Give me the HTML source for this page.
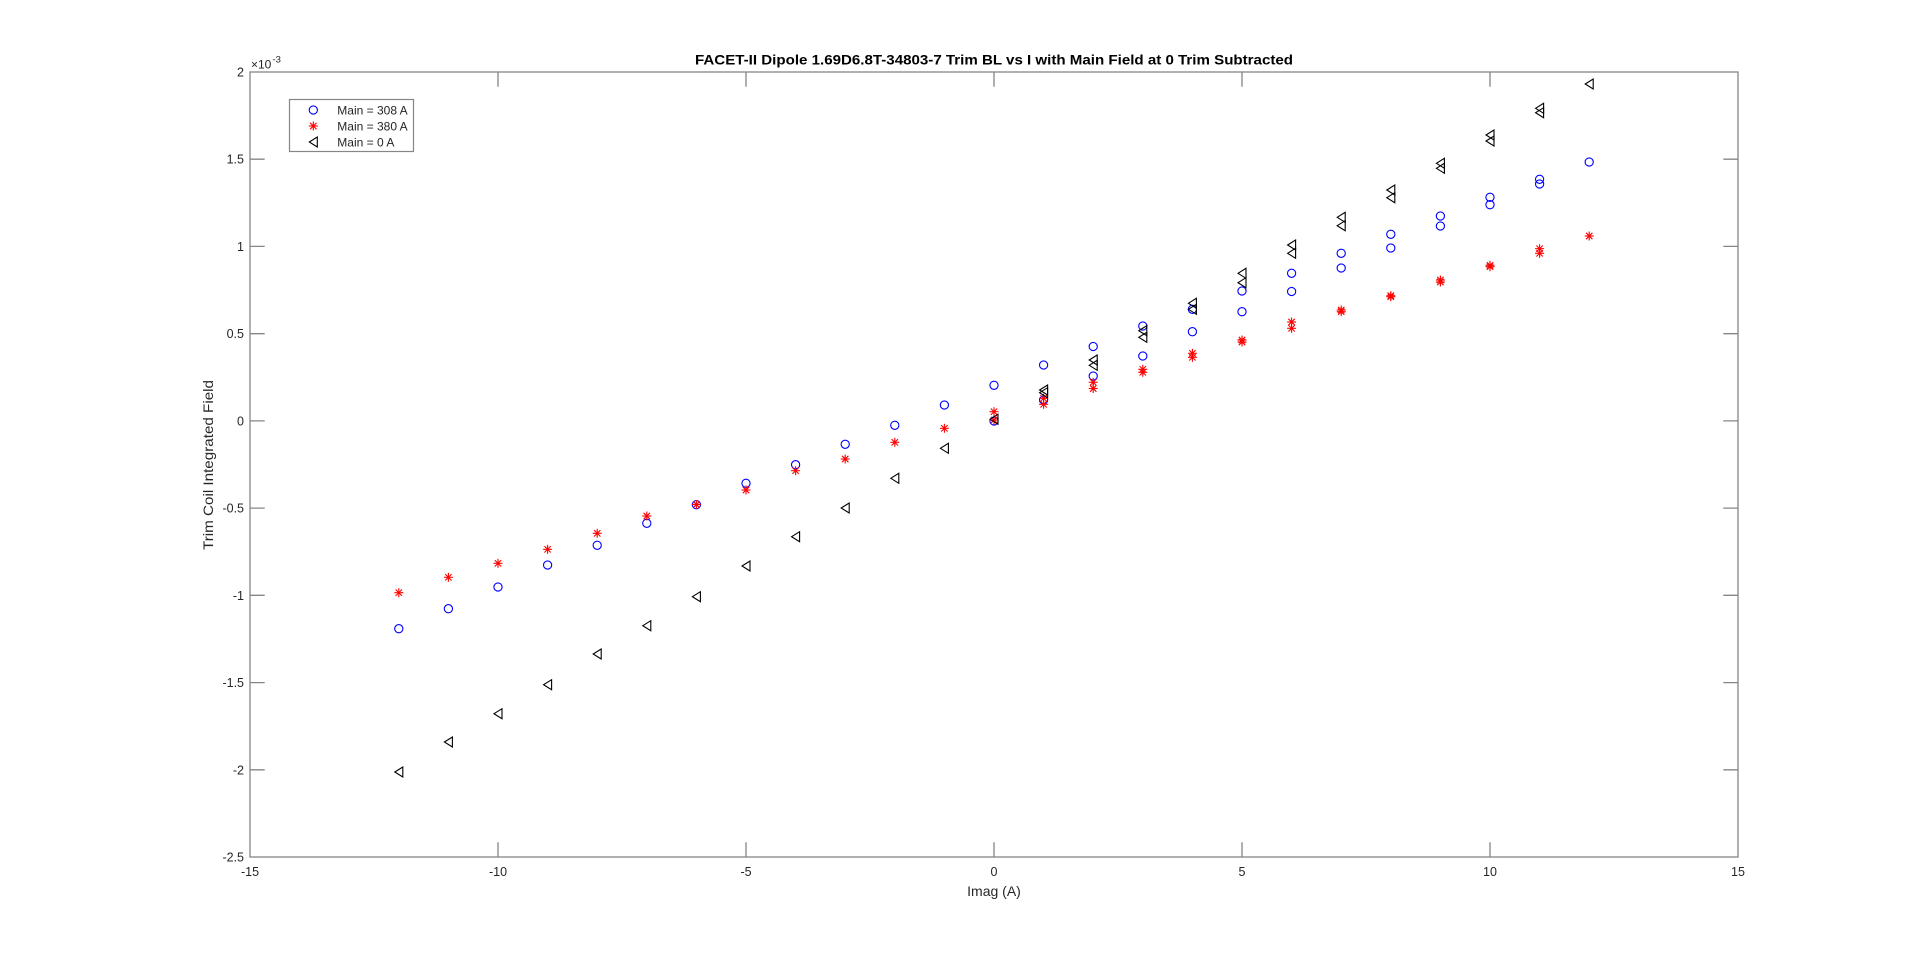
<!DOCTYPE html>
<html><head><meta charset="utf-8"><style>
html,body{margin:0;padding:0;background:#fff;width:1920px;height:963px;overflow:hidden}
svg{display:block}
text{font-family:"Liberation Sans",Arial,sans-serif;fill:#262626}
</style></head><body>
<svg width="1920" height="963" viewBox="0 0 1920 963" xmlns="http://www.w3.org/2000/svg">
<defs>
<circle id="c" cx="0" cy="0" r="4.1" fill="none" stroke="#0000ff" stroke-width="1.1"/>
<g id="s" stroke="#ff0000" stroke-width="1.1"><line x1="-4.5" y1="0" x2="4.5" y2="0"/><line x1="0" y1="-4.5" x2="0" y2="4.5"/><line x1="-3.2" y1="-3.2" x2="3.2" y2="3.2"/><line x1="-3.2" y1="3.2" x2="3.2" y2="-3.2"/></g>
<polygon id="t" points="-4,0 4,-5 4,5" fill="none" stroke="#000" stroke-width="1.1" stroke-linejoin="miter"/>
</defs>
<rect width="1920" height="963" fill="#fff"/>
<!-- axes box -->
<g stroke="#868686" stroke-width="1.3" fill="none">
<rect x="250" y="72" width="1488" height="785"/>
<!-- x ticks -->
<path d="M498 857v-14.7M746 857v-14.7M994 857v-14.7M1242 857v-14.7M1490 857v-14.7M498 72v14.7M746 72v14.7M994 72v14.7M1242 72v14.7M1490 72v14.7"/>
<!-- y ticks -->
<path d="M250 159.2h14.7M250 246.4h14.7M250 333.7h14.7M250 420.9h14.7M250 508.1h14.7M250 595.3h14.7M250 682.6h14.7M250 769.8h14.7M1738 159.2h-14.7M1738 246.4h-14.7M1738 333.7h-14.7M1738 420.9h-14.7M1738 508.1h-14.7M1738 595.3h-14.7M1738 682.6h-14.7M1738 769.8h-14.7"/>
</g>
<!-- x tick labels -->
<g font-size="12.5" text-anchor="middle">
<text x="250" y="876">-15</text>
<text x="498" y="876">-10</text>
<text x="746" y="876">-5</text>
<text x="994" y="876">0</text>
<text x="1242" y="876">5</text>
<text x="1490" y="876">10</text>
<text x="1738" y="876">15</text>
</g>
<!-- y tick labels -->
<g font-size="12.5" text-anchor="end">
<text x="244" y="76.5">2</text>
<text x="244" y="163.7">1.5</text>
<text x="244" y="250.9">1</text>
<text x="244" y="338.2">0.5</text>
<text x="244" y="425.4">0</text>
<text x="244" y="512.6">-0.5</text>
<text x="244" y="599.8">-1</text>
<text x="244" y="687.1">-1.5</text>
<text x="244" y="774.3">-2</text>
<text x="244" y="861.5">-2.5</text>
</g>
<!-- exponent -->
<text x="251" y="68.5" font-size="12">×10</text>
<text x="272.5" y="62.5" font-size="9.5">-3</text>
<!-- title -->
<text x="994" y="64.5" font-size="14" font-weight="bold" text-anchor="middle" textLength="598" lengthAdjust="spacingAndGlyphs" style="fill:#000">FACET-II Dipole 1.69D6.8T-34803-7 Trim BL vs I with Main Field at 0 Trim Subtracted</text>
<!-- axis labels -->
<text x="994" y="896" font-size="14" text-anchor="middle">Imag (A)</text>
<text transform="translate(213,465) rotate(-90)" font-size="14" text-anchor="middle" textLength="170" lengthAdjust="spacingAndGlyphs">Trim Coil Integrated Field</text>

<!-- blue circles -->
<g>
<use href="#c" x="398.8" y="628.7"/><use href="#c" x="448.4" y="608.7"/><use href="#c" x="498" y="587"/><use href="#c" x="547.6" y="565"/><use href="#c" x="597.2" y="545.3"/><use href="#c" x="646.8" y="523.3"/><use href="#c" x="696.4" y="504.7"/><use href="#c" x="746" y="483.3"/><use href="#c" x="795.6" y="464.7"/><use href="#c" x="845.2" y="444.3"/><use href="#c" x="894.8" y="425.3"/><use href="#c" x="944.4" y="405"/>
<use href="#c" x="994" y="385.3"/><use href="#c" x="994" y="421"/>
<use href="#c" x="1043.6" y="365"/><use href="#c" x="1043.6" y="400"/>
<use href="#c" x="1093.2" y="346.5"/><use href="#c" x="1093.2" y="376"/>
<use href="#c" x="1142.8" y="326"/><use href="#c" x="1142.8" y="356"/>
<use href="#c" x="1192.4" y="309.3"/><use href="#c" x="1192.4" y="331.7"/>
<use href="#c" x="1242" y="291"/><use href="#c" x="1242" y="311.7"/>
<use href="#c" x="1291.6" y="273.3"/><use href="#c" x="1291.6" y="291.5"/>
<use href="#c" x="1341.2" y="253.3"/><use href="#c" x="1341.2" y="268"/>
<use href="#c" x="1390.8" y="234.3"/><use href="#c" x="1390.8" y="248"/>
<use href="#c" x="1440.4" y="216"/><use href="#c" x="1440.4" y="226"/>
<use href="#c" x="1490" y="197.3"/><use href="#c" x="1490" y="204.7"/>
<use href="#c" x="1539.6" y="179.3"/><use href="#c" x="1539.6" y="184"/>
<use href="#c" x="1589.2" y="162"/>
</g>
<!-- red asterisks -->
<g>
<use href="#s" x="398.8" y="592.7"/><use href="#s" x="448.4" y="577.3"/><use href="#s" x="498" y="563.3"/><use href="#s" x="547.6" y="549.3"/><use href="#s" x="597.2" y="533.3"/><use href="#s" x="646.8" y="516"/><use href="#s" x="696.4" y="504.5"/><use href="#s" x="746" y="490"/><use href="#s" x="795.6" y="470.7"/><use href="#s" x="845.2" y="459"/><use href="#s" x="894.8" y="442.3"/><use href="#s" x="944.4" y="428.3"/>
<use href="#s" x="994" y="411.7"/><use href="#s" x="994" y="420"/>
<use href="#s" x="1043.6" y="398.3"/><use href="#s" x="1043.6" y="404.3"/>
<use href="#s" x="1093.2" y="382.3"/><use href="#s" x="1093.2" y="388.5"/>
<use href="#s" x="1142.8" y="369.3"/><use href="#s" x="1142.8" y="372.3"/>
<use href="#s" x="1192.4" y="353.3"/><use href="#s" x="1192.4" y="357.3"/>
<use href="#s" x="1242" y="340"/><use href="#s" x="1242" y="342"/>
<use href="#s" x="1291.6" y="322"/><use href="#s" x="1291.6" y="328.3"/>
<use href="#s" x="1341.2" y="310"/><use href="#s" x="1341.2" y="311.7"/>
<use href="#s" x="1390.8" y="295.7"/><use href="#s" x="1390.8" y="296.7"/>
<use href="#s" x="1440.4" y="280"/><use href="#s" x="1440.4" y="282"/>
<use href="#s" x="1490" y="265.3"/><use href="#s" x="1490" y="266.7"/>
<use href="#s" x="1539.6" y="248.7"/><use href="#s" x="1539.6" y="253.3"/>
<use href="#s" x="1589.2" y="236"/>
</g>
<!-- black triangles -->
<g>
<use href="#t" x="398.8" y="772"/><use href="#t" x="448.4" y="742"/><use href="#t" x="498" y="713.7"/><use href="#t" x="547.6" y="684.7"/><use href="#t" x="597.2" y="654"/><use href="#t" x="646.8" y="625.7"/><use href="#t" x="696.4" y="596.7"/><use href="#t" x="746" y="566"/><use href="#t" x="795.6" y="536.7"/><use href="#t" x="845.2" y="508"/><use href="#t" x="894.8" y="478.3"/><use href="#t" x="944.4" y="448.3"/>
<use href="#t" x="994" y="419.3"/>
<use href="#t" x="1043.6" y="390"/><use href="#t" x="1043.6" y="392.7"/>
<use href="#t" x="1093.2" y="360"/><use href="#t" x="1093.2" y="365.3"/>
<use href="#t" x="1142.8" y="330.7"/><use href="#t" x="1142.8" y="337.3"/>
<use href="#t" x="1192.4" y="303.3"/><use href="#t" x="1192.4" y="309.3"/>
<use href="#t" x="1242" y="273.3"/><use href="#t" x="1242" y="282.7"/>
<use href="#t" x="1291.6" y="245"/><use href="#t" x="1291.6" y="253.3"/>
<use href="#t" x="1341.2" y="217.3"/><use href="#t" x="1341.2" y="225.7"/>
<use href="#t" x="1390.8" y="190"/><use href="#t" x="1390.8" y="197.7"/>
<use href="#t" x="1440.4" y="163.3"/><use href="#t" x="1440.4" y="168.3"/>
<use href="#t" x="1490" y="135"/><use href="#t" x="1490" y="141"/>
<use href="#t" x="1539.6" y="108.3"/><use href="#t" x="1539.6" y="112.7"/>
<use href="#t" x="1589.2" y="84"/>
</g>

<!-- legend -->
<rect x="289.5" y="99.5" width="124" height="52" fill="#fff" stroke="#868686" stroke-width="1.2"/>
<use href="#c" x="313.3" y="110"/>
<use href="#s" x="313.3" y="126"/>
<use href="#t" x="313.3" y="142"/>
<g font-size="12">
<text x="337.3" y="114.3">Main = 308 A</text>
<text x="337.3" y="130.3">Main = 380 A</text>
<text x="337.3" y="146.3">Main = 0 A</text>
</g>
</svg>
</body></html>
